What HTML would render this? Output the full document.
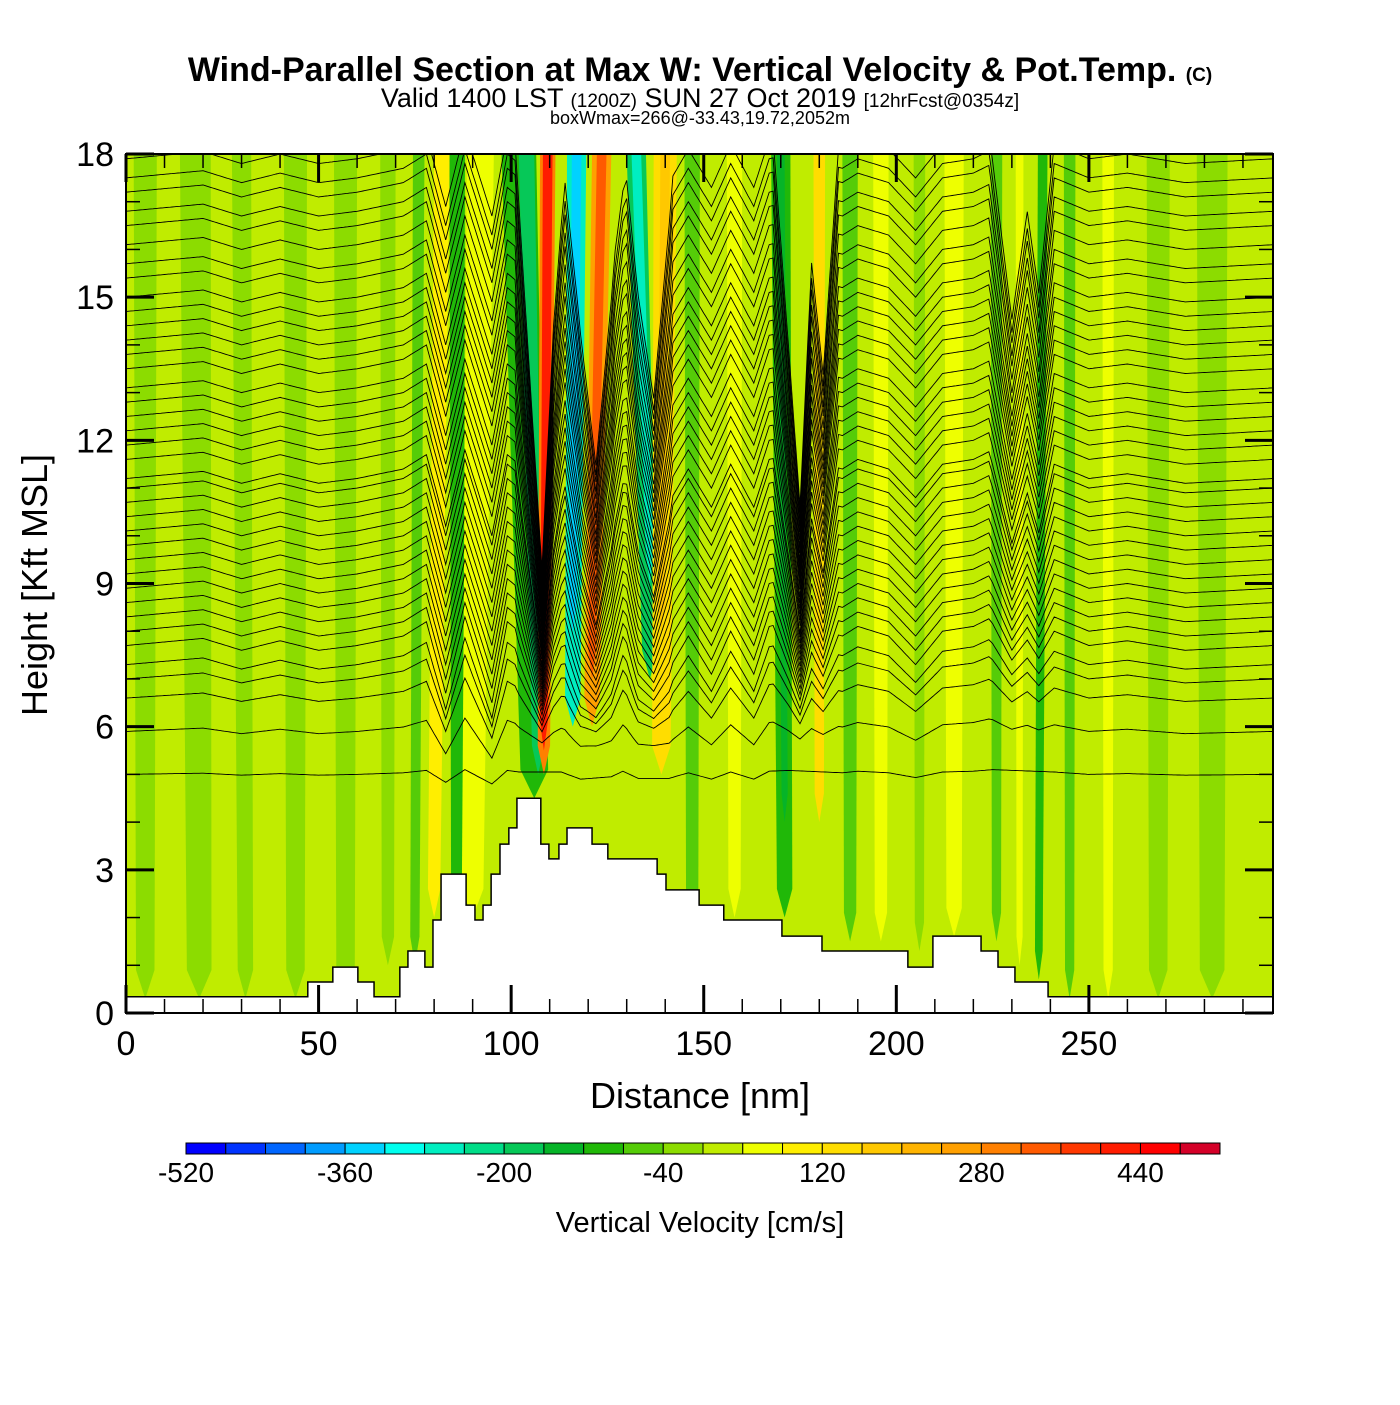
<!DOCTYPE html>
<html><head><meta charset="utf-8"><style>
body{margin:0;background:#fff;}
svg text{font-family:"Liberation Sans",Arial,sans-serif;}
</style></head><body>
<svg id="c" width="1400" height="1400" viewBox="0 0 1400 1400" xmlns="http://www.w3.org/2000/svg">
<text x="700" y="81" font-size="34" font-weight="bold" text-anchor="middle">Wind-Parallel Section at Max W: Vertical Velocity &amp; Pot.Temp. <tspan font-size="19">(C)</tspan></text>
<text x="700" y="107" font-size="27" text-anchor="middle">Valid 1400 LST <tspan font-size="19">(1200Z)</tspan> SUN 27 Oct 2019 <tspan font-size="19">[12hrFcst@0354z]</tspan></text>
<text x="700" y="124" font-size="18" text-anchor="middle">boxWmax=266@-33.43,19.72,2052m</text>
<defs><clipPath id="pc"><rect x="126" y="154" width="1147" height="859"/></clipPath></defs>
<g id="plot" clip-path="url(#pc)"></g>
<g id="axes"></g>
<text x="700" y="1108" font-size="36" text-anchor="middle">Distance [nm]</text>
<text transform="translate(47,585) rotate(-90)" font-size="36" text-anchor="middle">Height [Kft MSL]</text>
<g id="cbar"></g>
<text x="700" y="1232" font-size="29" text-anchor="middle">Vertical Velocity [cm/s]</text>
</svg>
<script>
// ---- data ----
const colors=["#0000ff","#0033ff","#0066ff","#009cff","#00d2ff","#00ffee","#00eec0","#00dd88","#06c858","#06b428","#20b808","#55cc08","#8cdc00","#c0ec00","#eeff00","#ffee00","#ffdd00","#ffc800","#ffb400","#ffa000","#ff8000","#ff5a00","#ff3800","#ff1c00","#ff0000","#d40028"];
const cbarLabels=[-520,-360,-200,-40,120,280,440];
// terrain steps: start nm, height kft
const terrainNm=[0,47.2,53.7,60.2,64.4,71.1,73.2,77.6,79.7,81.8,88.3,90.6,92.7,94.8,97.1,99.4,101.5,107.7,109.8,112.4,114.5,121,125.1,137.9,140.2,148.8,155.2,170.3,180.7,203,209.5,222,226.4,230.8,239.4];
const terrainKft=[0.34,0.65,0.96,0.65,0.34,0.96,1.3,0.96,1.95,2.91,2.26,1.95,2.26,2.91,3.54,3.88,4.5,3.54,3.23,3.54,3.88,3.54,3.23,2.91,2.58,2.26,1.95,1.61,1.3,0.96,1.61,1.3,0.96,0.65,0.34];
// w stripes (nm at top, nm at base, width nm, w cm/s, base kft)
const stripeTop=[5,18,30,44,57,68,76,82,86,92,102,104,109.5,109.5,117,117,123.5,123.5,132.5,132.5,140,140,147,158,170,170,180,188,196,206,215,226,232,238,245,255,268,282];
const stripeBot=[5,19,31,44,57,68,75,80,86,90,106,107,108.5,108.5,116,116,121,121,136,136,139,139,147,158,171,171,180,188,196,206,215,226,232,237,245,255,268,282];
const stripeWid=[6,8,5,6,6,4,3,4,4,7,9,4,4,2.5,5,2.5,5,2.5,5,2.5,6,2.5,4,4,5,2,3,4,4,3,5,3,2,2.5,3,3,6,8];
const stripeW=[-20,-20,-20,-20,-20,-20,-60,80,-90,60,-100,-170,300,420,-250,-360,260,340,-200,-280,140,170,-60,60,-90,-150,140,-60,60,-40,60,-80,60,-100,-60,60,-20,-20];
const stripeBase=[0.3,0.3,0.3,0.3,0.3,1,1,2,2,2,4.5,5,5,5.5,6,8,6,7,7,9,5,8,2,2,2,4,4,1.5,1.5,1.3,1.6,1.5,1,0.7,0.3,0.3,0.3,0.3];
// potential temperature contour base heights (kft)
const thetaLevels=[5.0,5.9,6.6,7.0,7.3,7.7,8.0,8.3,8.6,8.9,9.2,9.5,9.8,10.1,10.4,10.7,11.0,11.2,11.6,11.9,12.2,12.5,12.8,13.1,13.5,13.8,14.1,14.4,14.7,15.0,15.4,15.7,16.1,16.5,16.8,17.2,17.5,17.9];
// small wave displacement (kft)
const waveNm=[0,20,30,40,50,60,72,78,83,88,95,99,102,113,118,126,129,133,141,146,152,157,163,167,172,186,190,198,205,212,220,225,241,250,260,275,298];
const waveDz=[0,0.15,-0.1,0.1,-0.1,0,0.2,0.5,-1.0,0.6,-1.2,0.5,0.3,0.3,-0.6,-0.3,0.4,-0.5,-0.5,0.2,-0.6,0.3,-0.6,0.4,0.5,0.2,0.4,0.2,-0.4,0.3,0.4,0.6,0.3,0,0.1,-0.1,0];
// compression toward low level (fraction of height above floor kept)
const compNm=[0,101,108,111,114,117,122,127,130,133,137,142,168,175,178,181,185,224,230,234,237,241,298];
const compF=[1,1,0.3,0.7,0.95,0.8,0.5,0.85,0.95,0.8,0.62,1,1,0.4,0.8,0.62,1,1,0.7,0.88,0.75,1,1];
// ---- axes ----
const X0=126,X1=1273,Y0=1013,Y1=154,XMAX=297.8,YMAX=18;
const sx=v=>X0+v*(X1-X0)/XMAX, sy=v=>Y0-v*(Y0-Y1)/YMAX;
const NS="http://www.w3.org/2000/svg";
function mk(t,a,p){const e=document.createElementNS(NS,t);for(const k in a)e.setAttribute(k,a[k]);p.appendChild(e);return e;}
const plot=document.getElementById('plot'),axes=document.getElementById('axes'),cb=document.getElementById('cbar');
const bin=w=>colors[Math.max(0,Math.min(25,Math.floor((w+520)/40)))];
const bg=mk('rect',{x:X0,y:Y1,width:X1-X0,height:Y0-Y1,fill:"#c0ec00"},plot);


for(let i=0;i<stripeTop.length;i++){
  const t=stripeTop[i],b=stripeBot[i],h=stripeWid[i]/2,yb=stripeBase[i];
  const pts=[[sx(t-h),sy(18)],[sx(t+h),sy(18)],[sx(b+h*0.8),sy(yb+0.6)],[sx(b),sy(yb)],[sx(b-h*0.8),sy(yb+0.6)]].map(p=>p.join(',')).join(' ');
  const p=mk('polygon',{points:pts,fill:bin(stripeW[i])},plot);
  
  
}
function lin(xs,ys,x){for(let i=1;i<xs.length;i++){if(x<=xs[i]){const a=xs[i-1],b=xs[i];return ys[i-1]+(ys[i]-ys[i-1])*(x-a)/(b-a);}}return ys[ys.length-1];}
const floorK=5.5;
thetaLevels.forEach(L=>{
  const amp=Math.max(0.15,Math.min(1,(L-4.5)/3));
  let d="";
  for(let x=0;x<=298;x+=0.5){
    let h=L+lin(waveNm,waveDz,x)*amp;
    if(h>floorK)h=floorK+(h-floorK)*lin(compNm,compF,x);
    d+=(x?"L":"M")+sx(x).toFixed(1)+","+sy(h).toFixed(1);
  }
  const p=mk('path',{d:d,fill:"none",stroke:"#000","stroke-width":0.9},plot);
  
  
});
// terrain
let td="M"+sx(0)+","+sy(0);
for(let i=0;i<terrainNm.length;i++){const x0=terrainNm[i],x1=i+1<terrainNm.length?terrainNm[i+1]:XMAX;td+="L"+sx(x0)+","+sy(terrainKft[i])+"L"+sx(x1)+","+sy(terrainKft[i]);}
td+="L"+sx(XMAX)+","+sy(0)+"Z";
const ter=mk('path',{d:td,fill:"#fff",stroke:"#000","stroke-width":1.5},plot);


const fr=mk('rect',{x:X0,y:Y1,width:X1-X0,height:Y0-Y1,fill:"none",stroke:"#000","stroke-width":2},axes);


for(let v=0;v<=290;v+=10){
  const L=v%50?14:28;
  mk('line',{x1:sx(v),x2:sx(v),y1:Y0,y2:Y0-L,stroke:"#000","stroke-width":v%50?1.5:3},axes);
  mk('line',{x1:sx(v),x2:sx(v),y1:Y1,y2:Y1+L,stroke:"#000","stroke-width":v%50?1.5:3},axes);
  if(v%50==0){const t=mk('text',{x:sx(v),y:1055,"font-size":34,"text-anchor":"middle"},axes);t.textContent=v;
  
  }
}
for(let v=0;v<=18;v+=1){
  const L=v%3?14:28;
  mk('line',{x1:X0,x2:X0+L,y1:sy(v),y2:sy(v),stroke:"#000","stroke-width":v%3?1.5:3},axes);
  mk('line',{x1:X1,x2:X1-L,y1:sy(v),y2:sy(v),stroke:"#000","stroke-width":v%3?1.5:3},axes);
  if(v%3==0){const t=mk('text',{x:114,y:sy(v)+12,"font-size":34,"text-anchor":"end"},axes);t.textContent=v;
  
  }
}
// colorbar
const CB0=186,CB1=1220,cw=(CB1-CB0)/26;
colors.forEach((c,i)=>{const r=mk('rect',{x:CB0+i*cw,y:1143,width:cw,height:11,fill:c,stroke:"#000","stroke-width":1},cb);

});
cbarLabels.forEach(v=>{const t=mk('text',{x:CB0+(v+520)/40*cw,y:1182,"font-size":28,"text-anchor":"middle"},cb);t.textContent=v;

});
</script>
</body></html>
